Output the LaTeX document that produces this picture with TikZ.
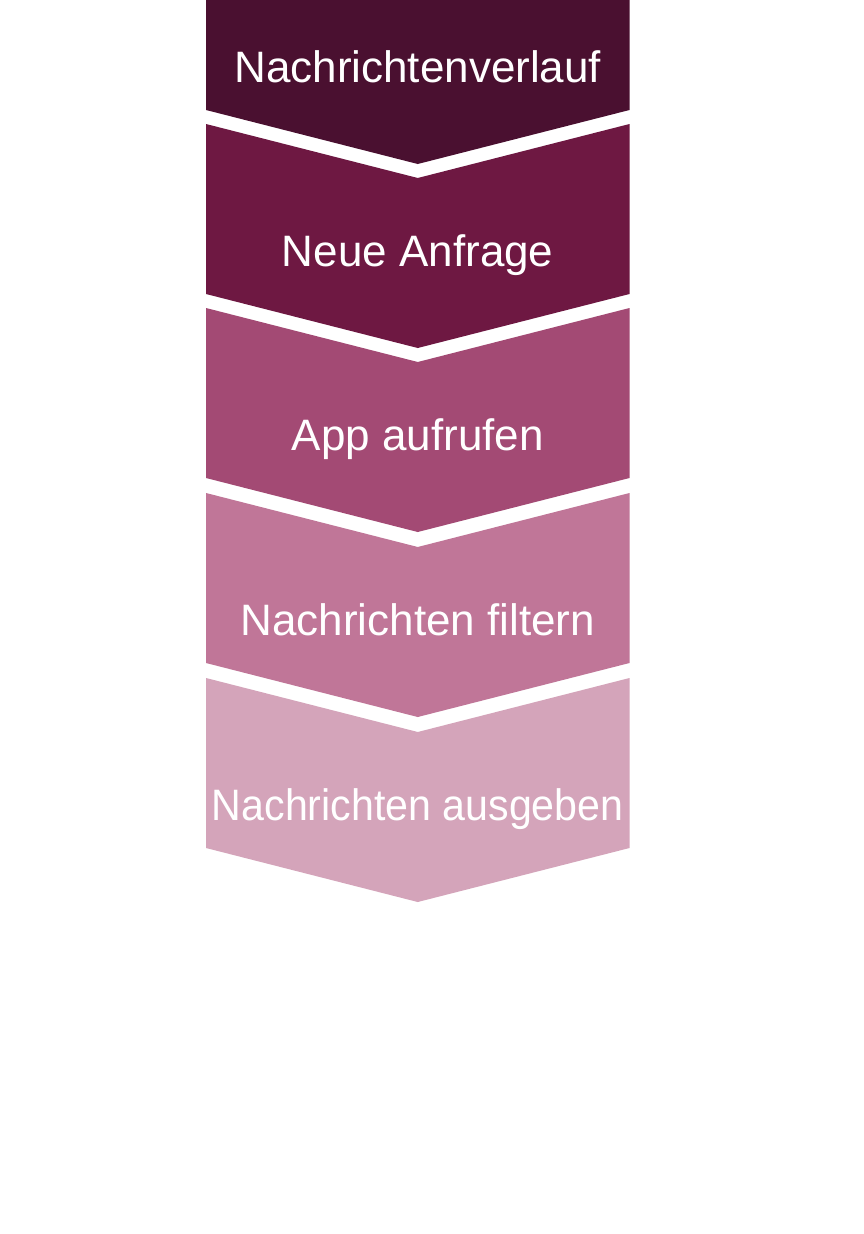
\documentclass[tikz,border=0pt]{standalone}
\usepackage{fontspec}
\setmainfont{Liberation Sans}
\definecolor{cA}{HTML}{4A1030}
\definecolor{cB}{HTML}{6E1842}
\definecolor{cC}{HTML}{A34A74}
\definecolor{cD}{HTML}{C07698}
\definecolor{cE}{HTML}{D4A4BA}
\tikzset{
  lbl/.style={text=white, font=\fontsize{44}{50}\selectfont, anchor=base, inner sep=0pt},
}
\newcommand{\chev}[3]{%
  \fill[#2] (206,#1) -- (417.75,#1+54) -- (629.5,#1) -- (629.5,#1+170)
     -- (417.75,#1+224) -- (206,#1+170) -- cycle;
  \node[lbl] (#3) at (417.75,#1+142) {\strut};
}
\begin{document}
\begin{tikzpicture}[x=1pt,y=-1pt]
\useasboundingbox (0,0) rectangle (864,1234);
\fill[white] (0,0) rectangle (864,1234);
\begin{scope}
\clip (0,0) rectangle (864,1234);
\fill[cA] (206,-60) -- (417.75,-6) -- (629.5,-60) -- (629.5,110) -- (417.75,164) -- (206,110) -- cycle;
\fill[cB] (206,124) -- (417.75,178) -- (629.5,124) -- (629.5,294) -- (417.75,348) -- (206,294) -- cycle;
\fill[cC] (206,308) -- (417.75,362) -- (629.5,308) -- (629.5,478) -- (417.75,532) -- (206,478) -- cycle;
\fill[cD] (206,493) -- (417.75,547) -- (629.5,493) -- (629.5,663) -- (417.75,717) -- (206,663) -- cycle;
\fill[cE] (206,678) -- (417.75,732) -- (629.5,678) -- (629.5,848) -- (417.75,902) -- (206,848) -- cycle;
\end{scope}
\node[lbl] (t1) at (417.75,82) {Nachrichtenverlauf};
\node[lbl] (t2) at (417.75,266) {Neue Anfrage};
\node[lbl] (t3) at (417.75,450) {App aufrufen};
\node[lbl] (t4) at (417.75,635) {Nachrichten filtern};
\node[lbl] (t5) at (417.75,820) {\scalebox{0.935}[1]{Nachrichten ausgeben}};
\end{tikzpicture}
\end{document}
